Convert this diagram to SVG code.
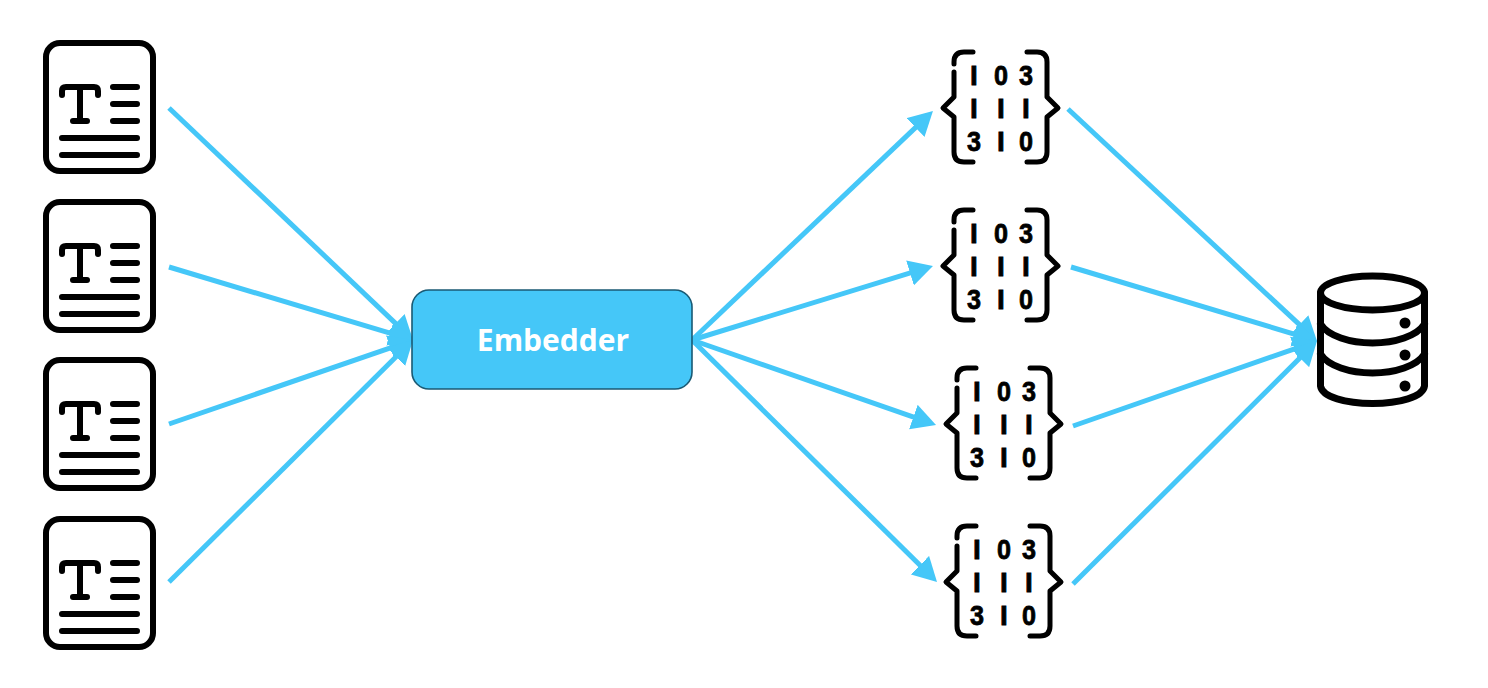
<svg xmlns="http://www.w3.org/2000/svg" width="1488" height="688" viewBox="0 0 1488 688">
<style>
.ic{fill:none;stroke:#000;stroke-linecap:round;stroke-linejoin:round}
.doc{stroke-width:6}
.br{stroke-width:5}
.db{stroke-width:7}
.dot{fill:#000}
.arrow{fill:none;stroke:#45c7f8;stroke-width:5;marker-end:url(#head)}
.d{font-family:"Liberation Sans",Arial,sans-serif;font-weight:700;font-size:28px;text-anchor:middle;fill:#000;stroke:#000;stroke-width:.8}
.label{font-family:"Open Sans","Liberation Sans",sans-serif;font-weight:700;font-size:30px;text-anchor:middle;fill:#fff}
</style>
<defs>
<marker id="head" markerUnits="userSpaceOnUse" markerWidth="26" markerHeight="26" viewBox="0 0 26 26" refX="14" refY="13" orient="auto"><path d="M0,0 L24,13 L0,26 Z" fill="#45c7f8"/></marker>
<g id="docIcon" class="ic doc">
<rect x="46" y="43" width="107" height="128" rx="14"/>
<path d="M62,95 V91 Q62,87 66,87 H94 Q98,87 98,91 V95 M80,87 V121 M73,121 H87 M113,87 H137 M113,104 H137 M113,121 H137 M62,138 H137 M62,155 H137"/>
</g>
<g id="braces" class="ic br">
<path d="M973,52 H964 Q954,52 954,62 V64 M954,72 V97 L943,108 L954,117 V152 Q954,162 964,162 H973"/>
<path d="M1027,52 H1037 Q1047,52 1047,62 V97 L1058,108 L1047,117 V152 Q1047,162 1037,162 H1027"/>
</g>
</defs>
<g id="connectors">
<line class="arrow" x1="169" y1="108" x2="405.8" y2="333.1"/>
<line class="arrow" x1="169" y1="267" x2="403.4" y2="337.1"/>
<line class="arrow" x1="169" y1="424" x2="403.5" y2="343.3"/>
<line class="arrow" x1="169" y1="582" x2="405.9" y2="347"/>
<line class="arrow" x1="692" y1="340" x2="925.7" y2="117.9"/>
<line class="arrow" x1="692" y1="340" x2="923.4" y2="268.9"/>
<line class="arrow" x1="692" y1="340" x2="926.6" y2="421.7"/>
<line class="arrow" x1="692" y1="340" x2="929.9" y2="575"/>
<line class="arrow" x1="1068" y1="109" x2="1309.7" y2="334.2"/>
<line class="arrow" x1="1071" y1="267" x2="1307.4" y2="338.1"/>
<line class="arrow" x1="1073" y1="426" x2="1307.6" y2="344.3"/>
<line class="arrow" x1="1073" y1="584" x2="1309.9" y2="348.1"/>
</g>
<g id="doc1"><use href="#docIcon"/></g>
<g id="doc2"><use href="#docIcon" y="159"/></g>
<g id="doc3"><use href="#docIcon" y="317"/></g>
<g id="doc4"><use href="#docIcon" y="476"/></g>
<g id="embedder">
<rect x="412" y="290" width="280" height="99" rx="17" fill="#45c7f8" stroke="#1a5a74" stroke-width="1.6"/>
<text class="label" x="553" y="351">Embedder</text>
</g>
<g id="vector1"><use href="#braces"/>
<text class="d" x="974" y="85">I</text><text class="d" x="1001" y="85" textLength="14" lengthAdjust="spacingAndGlyphs">0</text><text class="d" x="1026" y="85" textLength="14" lengthAdjust="spacingAndGlyphs">3</text>
<text class="d" x="974" y="118">I</text><text class="d" x="1001" y="118">I</text><text class="d" x="1026" y="118">I</text>
<text class="d" x="974" y="151" textLength="14" lengthAdjust="spacingAndGlyphs">3</text><text class="d" x="1001" y="151">I</text><text class="d" x="1026" y="151" textLength="14" lengthAdjust="spacingAndGlyphs">0</text>
</g>
<g id="vector2" transform="translate(0,158)"><use href="#braces"/>
<text class="d" x="974" y="85">I</text><text class="d" x="1001" y="85" textLength="14" lengthAdjust="spacingAndGlyphs">0</text><text class="d" x="1026" y="85" textLength="14" lengthAdjust="spacingAndGlyphs">3</text>
<text class="d" x="974" y="118">I</text><text class="d" x="1001" y="118">I</text><text class="d" x="1026" y="118">I</text>
<text class="d" x="974" y="151" textLength="14" lengthAdjust="spacingAndGlyphs">3</text><text class="d" x="1001" y="151">I</text><text class="d" x="1026" y="151" textLength="14" lengthAdjust="spacingAndGlyphs">0</text>
</g>
<g id="vector3" transform="translate(3,316)"><use href="#braces"/>
<text class="d" x="974" y="85">I</text><text class="d" x="1001" y="85" textLength="14" lengthAdjust="spacingAndGlyphs">0</text><text class="d" x="1026" y="85" textLength="14" lengthAdjust="spacingAndGlyphs">3</text>
<text class="d" x="974" y="118">I</text><text class="d" x="1001" y="118">I</text><text class="d" x="1026" y="118">I</text>
<text class="d" x="974" y="151" textLength="14" lengthAdjust="spacingAndGlyphs">3</text><text class="d" x="1001" y="151">I</text><text class="d" x="1026" y="151" textLength="14" lengthAdjust="spacingAndGlyphs">0</text>
</g>
<g id="vector4" transform="translate(3,474)"><use href="#braces"/>
<text class="d" x="974" y="85">I</text><text class="d" x="1001" y="85" textLength="14" lengthAdjust="spacingAndGlyphs">0</text><text class="d" x="1026" y="85" textLength="14" lengthAdjust="spacingAndGlyphs">3</text>
<text class="d" x="974" y="118">I</text><text class="d" x="1001" y="118">I</text><text class="d" x="1026" y="118">I</text>
<text class="d" x="974" y="151" textLength="14" lengthAdjust="spacingAndGlyphs">3</text><text class="d" x="1001" y="151">I</text><text class="d" x="1026" y="151" textLength="14" lengthAdjust="spacingAndGlyphs">0</text>
</g>
<g id="database">
<g class="ic db">
<ellipse cx="1372.5" cy="293" rx="52" ry="17"/>
<path d="M1320.5,293 V386 C1322,397 1346,403.500 1372.500,403.500 C1399,403.500 1423,397 1424.500,386 V293"/>
<path d="M1320.500,324 C1328,336 1350,343 1372.500,343 C1395,343 1417,336 1424.500,324"/>
<path d="M1320.500,354 C1328,366 1350,373 1372.500,373 C1395,373 1417,366 1424.500,354"/>
</g>
<circle class="dot" cx="1405" cy="323" r="5.500"/>
<circle class="dot" cx="1405" cy="355" r="5.500"/>
<circle class="dot" cx="1405" cy="386" r="5.500"/>
</g>
</svg>
